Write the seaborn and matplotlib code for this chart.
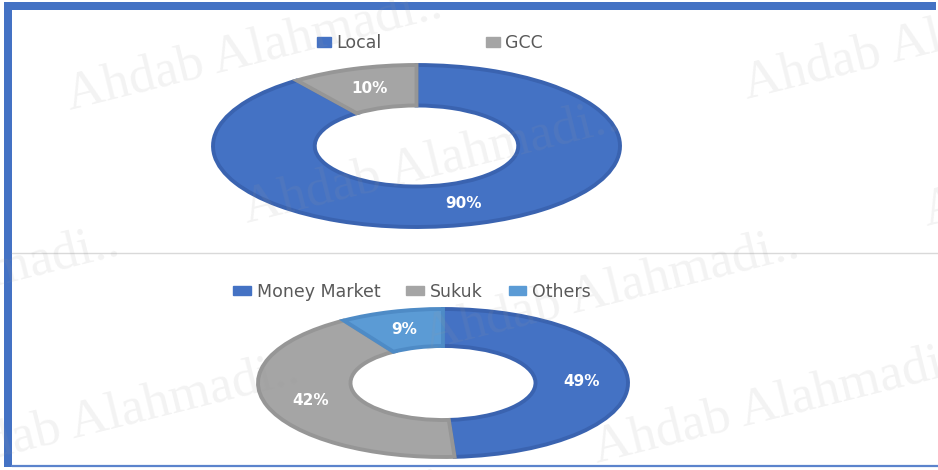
import numpy as np
import matplotlib
matplotlib.use("Agg")
import matplotlib.pyplot as plt
import matplotlib.patches as mpatches
import seaborn as sns

sns.set_style("white")
plt.rcParams["font.family"] = ["DejaVu Sans"]

# data
region_labels = ["Local", "GCC"]
region_values = [90, 10]
asset_labels = ["Money Market", "Sukuk", "Others"]
asset_values = [49, 42, 9]

BLUE, GRAY, LBLUE = "#4472C4", "#A5A5A5", "#5B9BD5"
EDGE = {BLUE: "#3A63B0", GRAY: "#969696", LBLUE: "#4E8BC6"}
W, H = 938, 470


def fx(x):
    return x / W


def fy(y):
    return 1 - y / H


def donut(box, values, colors):
    x0, y0, x1, y1 = box
    ax = fig.add_axes([fx(x0), fy(y1), (x1 - x0) / W, (y1 - y0) / H])
    wedges, _, autotexts = ax.pie(
        values, colors=colors, startangle=90, counterclock=False,
        autopct=lambda p: f"{p:.0f}%", pctdistance=0.75,
        wedgeprops=dict(width=0.5, linewidth=2.8),
        textprops=dict(color="white", fontweight="bold", fontsize=11))
    for w, c in zip(wedges, colors):
        w.set_edgecolor(EDGE[c])
        w.set_clip_on(False)
    ax.set_aspect("auto")
    ax.set_xlim(-1, 1)
    ax.set_ylim(-1, 1)
    ax.axis("off")
    return ax


fig = plt.figure(figsize=(W / 100, H / 100), dpi=100)
fig.patch.set_facecolor("white")

# frame
bg = fig.add_axes([0, 0, 1, 1], zorder=-1)
bg.set_xlim(0, W)
bg.set_ylim(H, 0)
bg.axis("off")
bg.add_patch(mpatches.Rectangle((4, 2), W - 6, 8, color=BLUE, lw=0))
bg.add_patch(mpatches.Rectangle((4, 2), 8, 465, color=BLUE, lw=0))
bg.plot([12, W], [466, 466], color="#5B83CC", lw=1.6)
bg.plot([12, W], [253, 253], color="#D9D9D9", lw=1)

top_colors = [BLUE, GRAY]
bot_colors = [BLUE, GRAY, LBLUE]
donut((213, 65, 620, 227), region_values, top_colors)
donut((258, 309, 628, 457), asset_values, bot_colors)

fig.legend(handles=[mpatches.Patch(color=c, label=l) for c, l in zip(top_colors, region_labels)],
           loc="center", bbox_to_anchor=(fx(430), fy(43)), ncol=2, frameon=False,
           fontsize=12.5, labelcolor="#595959", handlelength=0.8, handleheight=0.5,
           handletextpad=0.3, columnspacing=6.0)
fig.legend(handles=[mpatches.Patch(color=c, label=l) for c, l in zip(bot_colors, asset_labels)],
           loc="center", bbox_to_anchor=(fx(412), fy(292)), ncol=3, frameon=False,
           fontsize=12.5, labelcolor="#595959", handlelength=1.0, handleheight=0.45,
           handletextpad=0.35, columnspacing=1.5)

# watermark
ang = 14
step = 515
d = np.array([np.cos(np.radians(ang)), -np.sin(np.radians(ang))])
for ax_, ay_ in [(70, 110), (247, 223), (427, 350), (597, 463)]:
    for k in range(-3, 3):
        px, py = np.array([ax_, ay_]) + k * step * d
        fig.text(fx(px), fy(py), "Ahdab Alahmadi..", rotation=ang, rotation_mode="anchor",
                 ha="left", va="baseline", fontsize=38, family="Liberation Serif",
                 color="#9A9A9A", alpha=0.12, zorder=10)

fig.savefig("out.png", dpi=100, facecolor="white")
